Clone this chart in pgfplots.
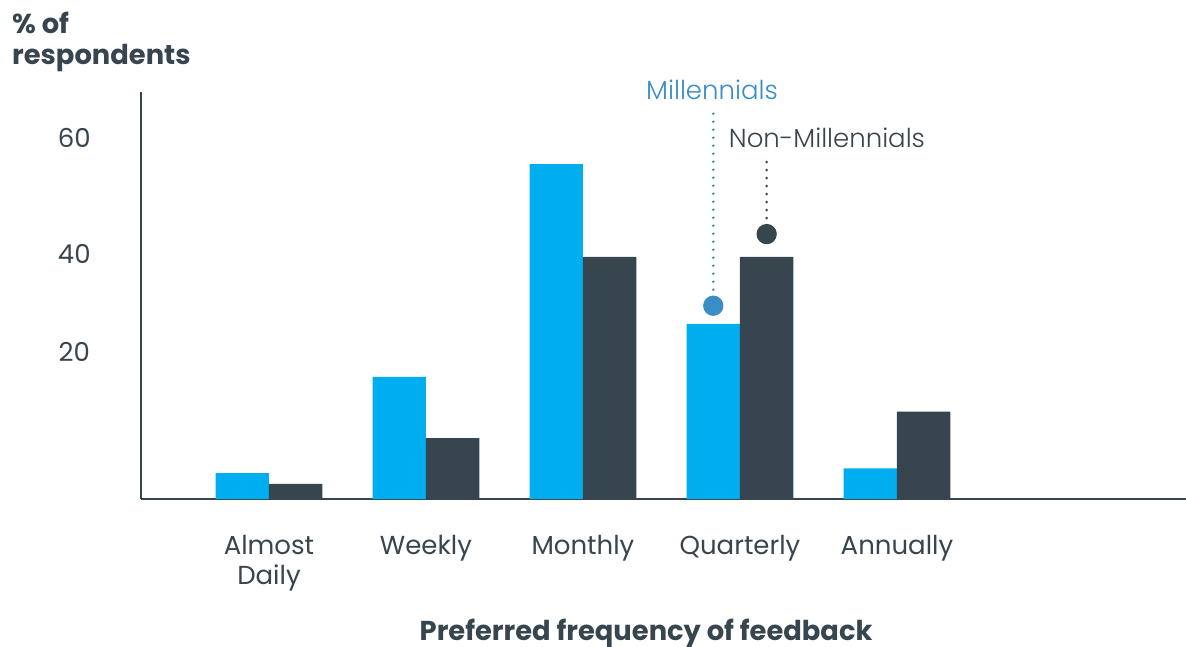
\documentclass[border=0pt]{standalone}
\usepackage{fontspec}
\setmainfont{Poppins}
\newfontfamily\plight{Poppins Light}
\usepackage{pgfplots}
\pgfplotsset{compat=1.18}
\definecolor{mblue}{HTML}{00AEEF}
\definecolor{dark}{HTML}{37454F}
\definecolor{lblue}{HTML}{3A8DC5}
\begin{document}
\begin{tikzpicture}
\begin{axis}[
 scale only axis, width=783.75pt, height=305.25pt,
 xmin=-0.815, xmax=5.841, ymin=0, ymax=67.6,
 axis lines=left, axis line style={-, draw=dark, line width=1.6pt},
 ybar, bar width=0.34,
 xtick={0,1,2,3,4}, xticklabels={Almost\\Daily,Weekly,Monthly,Quarterly,Annually},
 xticklabel style={align=center, font=\fontsize{19.5}{22.5}\selectfont, text=dark, yshift=-23.5pt},
 ytick={24.4,40.7,60}, yticklabels={20,40,60},
 yticklabel style={font=\fontsize{19.5}{20}\selectfont, text=dark, anchor=center, xshift=-50pt},
 /pgf/number format/assume math mode=true,
 major tick length=0pt,
 clip=false,
]
\addplot[fill=mblue, draw=none, bar shift=-0.17] coordinates {(0,4.3)(1,20.3)(2,55.6)(3,29.1)(4,5.1)};
\addplot[fill=dark, draw=none, bar shift=0.17] coordinates {(0,2.5)(1,10.1)(2,40.2)(3,40.2)(4,14.5)};
\addplot[sharp plot, lblue, line width=2.2pt, dash pattern=on 0pt off 6pt, line cap=round,
  mark=*, mark indices={1}, mark size=6.5pt, mark options={solid, fill=lblue, draw=none}]
  coordinates {(2.83,32.1)(2.83,64.3)};
\addplot[sharp plot, dark, line width=2.2pt, dash pattern=on 0pt off 6pt, line cap=round,
  mark=*, mark indices={1}, mark size=6.5pt, mark options={solid, fill=dark, draw=none}]
  coordinates {(3.17,44.0)(3.17,56.0)};
\node[text=lblue, font=\plight\fontsize{19.5}{20}\selectfont] at (axis cs:2.822,67.9) {Millennials};
\node[text=dark, font=\plight\fontsize{19.5}{20}\selectfont] at (axis cs:3.554,60.0) {Non-Millennials};
\node[text=dark, font=\bfseries\fontsize{20.5}{20}\selectfont] at (axis cs:2.402,-22.3) {Preferred frequency of feedback};
\node[text=dark, font=\bfseries\fontsize{20.5}{23.25}\selectfont, align=left, anchor=north west, inner sep=0pt] at (axis cs:-1.637,80.9) {\% of\\respondents};
\coordinate (BL) at (rel axis cs:0,0);
\coordinate (TR) at (rel axis cs:1,1);
\end{axis}
\pgfresetboundingbox
\path[use as bounding box] ([xshift=-105.75pt,yshift=-110.25pt]BL) rectangle ([yshift=69pt]TR);
\end{tikzpicture}
\end{document}
